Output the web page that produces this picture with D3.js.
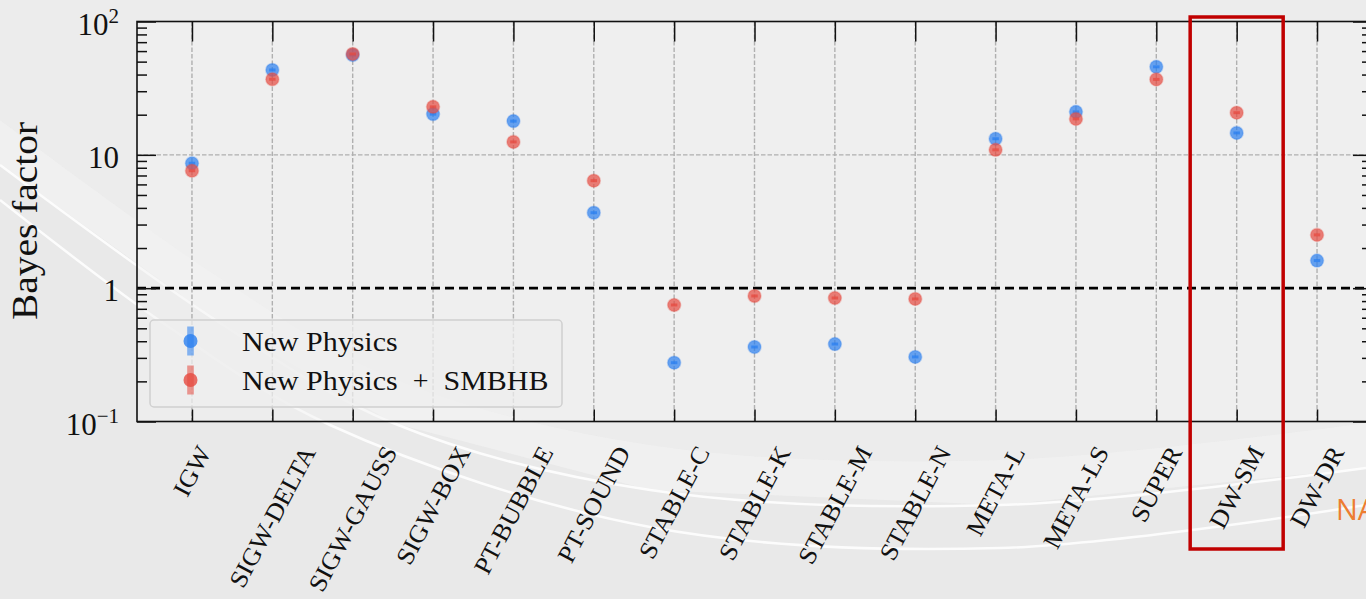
<!DOCTYPE html>
<html>
<head>
<meta charset="utf-8">
<script src="https://cdnjs.cloudflare.com/ajax/libs/d3/7.8.5/d3.min.js"></script>
<style>
  html, body { margin: 0; padding: 0; background: #eaeaea; overflow: hidden; }
  svg { display: block; }
</style>
</head>
<body>
<svg id="chart" width="1366" height="599"></svg>
<script>
// ---- data ----
var categories = ["IGW", "SIGW-DELTA", "SIGW-GAUSS", "SIGW-BOX", "PT-BUBBLE", "PT-SOUND",
  "STABLE-C", "STABLE-K", "STABLE-M", "STABLE-N", "META-L", "META-LS", "SUPER", "DW-SM", "DW-DR"];
var newPhysics = [8.65, 43.3, 56.1, 20.2, 17.9, 3.68, 0.276, 0.362, 0.381, 0.305, 13.2, 21.0, 45.7, 14.6, 1.61];
var withSMBHB  = [7.6, 36.9, 57.1, 22.9, 12.5, 6.4, 0.748, 0.874, 0.844, 0.830, 10.9, 18.6, 36.8, 20.7, 2.51];
var seriesNames = ["New Physics", "New Physics + SMBHB"];
var seriesColors = ["#2a7ff0", "#e64a40"];
var yTicks = [0.1, 1, 10, 100];
var yTickLabels = [["10", "\u22121"], ["1", ""], ["10", ""], ["10", "2"]];
var highlighted = "DW-SM";

(function () {
  var svg = d3.select("#chart");
  var serif = "'Liberation Serif', 'Times New Roman', serif";
  var cmScale = 1.07; // Computer Modern runs a bit wider than Times

  var pLeft = 137, pRight = 1372, pTop = 21.5, pBottom = 421.5;

  var x = d3.scalePoint().domain(categories).range([pLeft, pRight]).padding(0.684);
  var y = d3.scaleLog().domain([0.1, 100]).range([pBottom, pTop]);

  // ---- slide background decoration ----
  svg.append("rect").attr("width", 1366).attr("height", 599).attr("fill", "#e9e9e9");

  var curve = d3.line().curve(d3.curveCatmullRom);
  var lineA = [[0, 200], [163, 323], [330, 425], [650, 527], [1000, 548], [1366, 505]];
  var lineB = [[0, 165], [220, 323], [393, 423], [650, 490], [1000, 505], [1366, 468]];
  var bandTop = lineB.map(function (p) { return [p[0], p[1] - 45]; });

  svg.append("path")
    .attr("d", "M0,0L1366,0L1366," + bandTop[5][1] + curve(bandTop.slice().reverse()).replace("M", "L") + "Z")
    .attr("fill", "#ececec");
  svg.append("path")
    .attr("d", curve(bandTop) + "L" + lineB.slice().reverse().map(function (p) { return p.join(","); }).join("L") + "Z")
    .attr("fill", "#f1f1f1").attr("opacity", 0.8);
  [lineA, lineB].forEach(function (pts) {
    svg.append("path").attr("d", curve(pts))
      .attr("fill", "none").attr("stroke", "#ffffff").attr("stroke-width", 2.5).attr("opacity", 0.85);
  });

  // plot area
  svg.append("rect")
    .attr("x", pLeft).attr("y", pTop).attr("width", pRight - pLeft).attr("height", pBottom - pTop)
    .attr("fill", "#f2f2f2").attr("opacity", 0.5);

  // ---- grid ----
  var grid = svg.append("g").attr("stroke", "#b0b0b0").attr("stroke-width", 1.4).attr("stroke-dasharray", "4.5,2");
  grid.selectAll("line.v").data(categories).enter().append("line")
    .attr("x1", function (d) { return x(d); }).attr("x2", function (d) { return x(d); })
    .attr("y1", pTop).attr("y2", pBottom);
  grid.append("line").attr("x1", pLeft).attr("x2", pRight).attr("y1", y(10)).attr("y2", y(10));

  svg.append("line")
    .attr("x1", pLeft).attr("x2", pRight).attr("y1", y(1)).attr("y2", y(1))
    .attr("stroke", "#000").attr("stroke-width", 2.6).attr("stroke-dasharray", "9,5");

  // ---- markers ----
  [newPhysics, withSMBHB].forEach(function (vals, s) {
    var g = svg.append("g");
    var pts = categories.map(function (c, i) { return { c: c, v: vals[i] }; });
    g.selectAll("rect").data(pts).enter().append("rect")
      .attr("x", function (d) { return x(d.c) - 3.25; })
      .attr("y", function (d) { return y(d.v) - 1.5; })
      .attr("width", 6.5).attr("height", 3)
      .attr("fill", seriesColors[s]).attr("opacity", 0.75);
    g.selectAll("circle").data(pts).enter().append("circle")
      .attr("cx", function (d) { return x(d.c); })
      .attr("cy", function (d) { return y(d.v); })
      .attr("r", 6.5)
      .attr("fill", seriesColors[s]).attr("fill-opacity", 0.7)
      .attr("stroke", seriesColors[s]).attr("stroke-opacity", 0.28).attr("stroke-width", 1.6);
  });

  // ---- axes ----
  function styleAxis(g) {
    g.select(".domain").remove();
    g.selectAll(".tick line").attr("stroke", "#111").attr("stroke-width", 1.5);
    g.selectAll(".tick text").remove();
  }
  svg.append("g").attr("transform", "translate(0," + pBottom + ")")
    .call(d3.axisBottom(x).tickSize(-12).tickFormat("")).call(styleAxis);
  svg.append("g").attr("transform", "translate(0," + pTop + ")")
    .call(d3.axisTop(x).tickSize(-20).tickFormat("")).call(styleAxis);

  var minor = [];
  [0.1, 1, 10].forEach(function (dec) { for (var k = 2; k <= 9; k++) minor.push(dec * k); });
  svg.append("g").attr("transform", "translate(" + pLeft + ",0)")
    .call(d3.axisLeft(y).tickValues(yTicks).tickSize(-19).tickFormat("")).call(styleAxis);
  svg.append("g").attr("transform", "translate(" + pLeft + ",0)")
    .call(d3.axisLeft(y).tickValues(minor).tickSize(-10).tickFormat("")).call(styleAxis);
  svg.append("g").attr("transform", "translate(" + pRight + ",0)")
    .call(d3.axisRight(y).tickValues(yTicks).tickSize(-19).tickFormat("")).call(styleAxis);
  svg.append("g").attr("transform", "translate(" + pRight + ",0)")
    .call(d3.axisRight(y).tickValues(minor).tickSize(-10).tickFormat("")).call(styleAxis);

  svg.append("rect")
    .attr("x", pLeft).attr("y", pTop).attr("width", pRight - pLeft).attr("height", pBottom - pTop)
    .attr("fill", "none").attr("stroke", "#111").attr("stroke-width", 1.6);

  // y tick labels
  yTicks.forEach(function (t, i) {
    var txt = svg.append("text")
      .attr("x", 119).attr("y", y(t) + 13)
      .attr("text-anchor", "end")
      .attr("font-family", serif).attr("font-size", 31).attr("fill", "#111");
    txt.append("tspan").text(yTickLabels[i][0]);
    if (yTickLabels[i][1]) {
      txt.append("tspan").attr("dy", -11.5).attr("font-size", 21).text(yTickLabels[i][1]);
    }
  });

  // y axis title
  svg.append("text")
    .attr("transform", "translate(37,221) rotate(-90)")
    .attr("text-anchor", "middle")
    .attr("font-family", serif).attr("font-size", 35).attr("fill", "#111")
    .attr("textLength", 198).attr("lengthAdjust", "spacingAndGlyphs")
    .text("Bayes factor");

  // x tick labels, rotated, bbox centred on tick (matplotlib style)
  var angle = 62, rad = angle * Math.PI / 180, fs = 25;
  categories.forEach(function (c) {
    var g = svg.append("g");
    var t = g.append("text")
      .attr("text-anchor", "middle").attr("dominant-baseline", "central")
      .attr("font-family", serif).attr("font-size", fs).attr("fill", "#111")
      .text(c);
    var L = t.node().getComputedTextLength() * 1.05;
    t.attr("textLength", L).attr("lengthAdjust", "spacingAndGlyphs");
    var h = L * Math.sin(rad) + 17 * Math.cos(rad);
    g.attr("transform", "translate(" + x(c) + "," + (444 + h / 2) + ") rotate(" + (-angle) + ")");
  });

  // ---- legend ----
  var lg = svg.append("g");
  lg.append("rect")
    .attr("x", 150).attr("y", 320).attr("width", 412).attr("height", 87).attr("rx", 4)
    .attr("fill", "#eeeeee").attr("fill-opacity", 0.75)
    .attr("stroke", "#d0d0d0").attr("stroke-width", 1.5);
  seriesNames.forEach(function (name, s) {
    var cy = 341 + s * 39;
    lg.append("rect").attr("x", 187.2).attr("y", cy - 14.5).attr("width", 6.6).attr("height", 29)
      .attr("fill", seriesColors[s]).attr("opacity", 0.55);
    lg.append("circle").attr("cx", 190.5).attr("cy", cy).attr("r", 7)
      .attr("fill", seriesColors[s]).attr("fill-opacity", 0.8);
    // math-mode "+" gets wider spacing than a plain word gap, so lay out in pieces
    var parts = name.split(" + ");
    var cx = 242;
    parts.forEach(function (p, k) {
      if (k > 0) {
        var plus = lg.append("text").attr("x", cx + 15).attr("y", cy + 10)
          .attr("font-family", serif).attr("font-size", 28).attr("fill", "#111").text("+");
        cx += 15 + plus.node().getComputedTextLength() * cmScale + 14;
      }
      var t = lg.append("text").attr("x", cx).attr("y", cy + 10)
        .attr("font-family", serif).attr("font-size", 28).attr("fill", "#111").text(p);
      var w = t.node().getComputedTextLength() * cmScale;
      t.attr("textLength", w).attr("lengthAdjust", "spacingAndGlyphs");
      cx += w;
    });
  });

  // ---- highlight box around one model ----
  svg.append("rect")
    .attr("x", x(highlighted) - 46.5).attr("y", 17).attr("width", 93).attr("height", 532)
    .attr("fill", "none").attr("stroke", "#c00000").attr("stroke-width", 3.5);

  // cut-off slide text at the right edge
  svg.append("text").attr("x", 1336).attr("y", 519.5)
    .attr("font-family", "'Open Sans', 'Noto Sans', sans-serif").attr("font-size", 29)
    .attr("fill", "#ed7d31").text("NA");
})();
</script>
</body>
</html>
